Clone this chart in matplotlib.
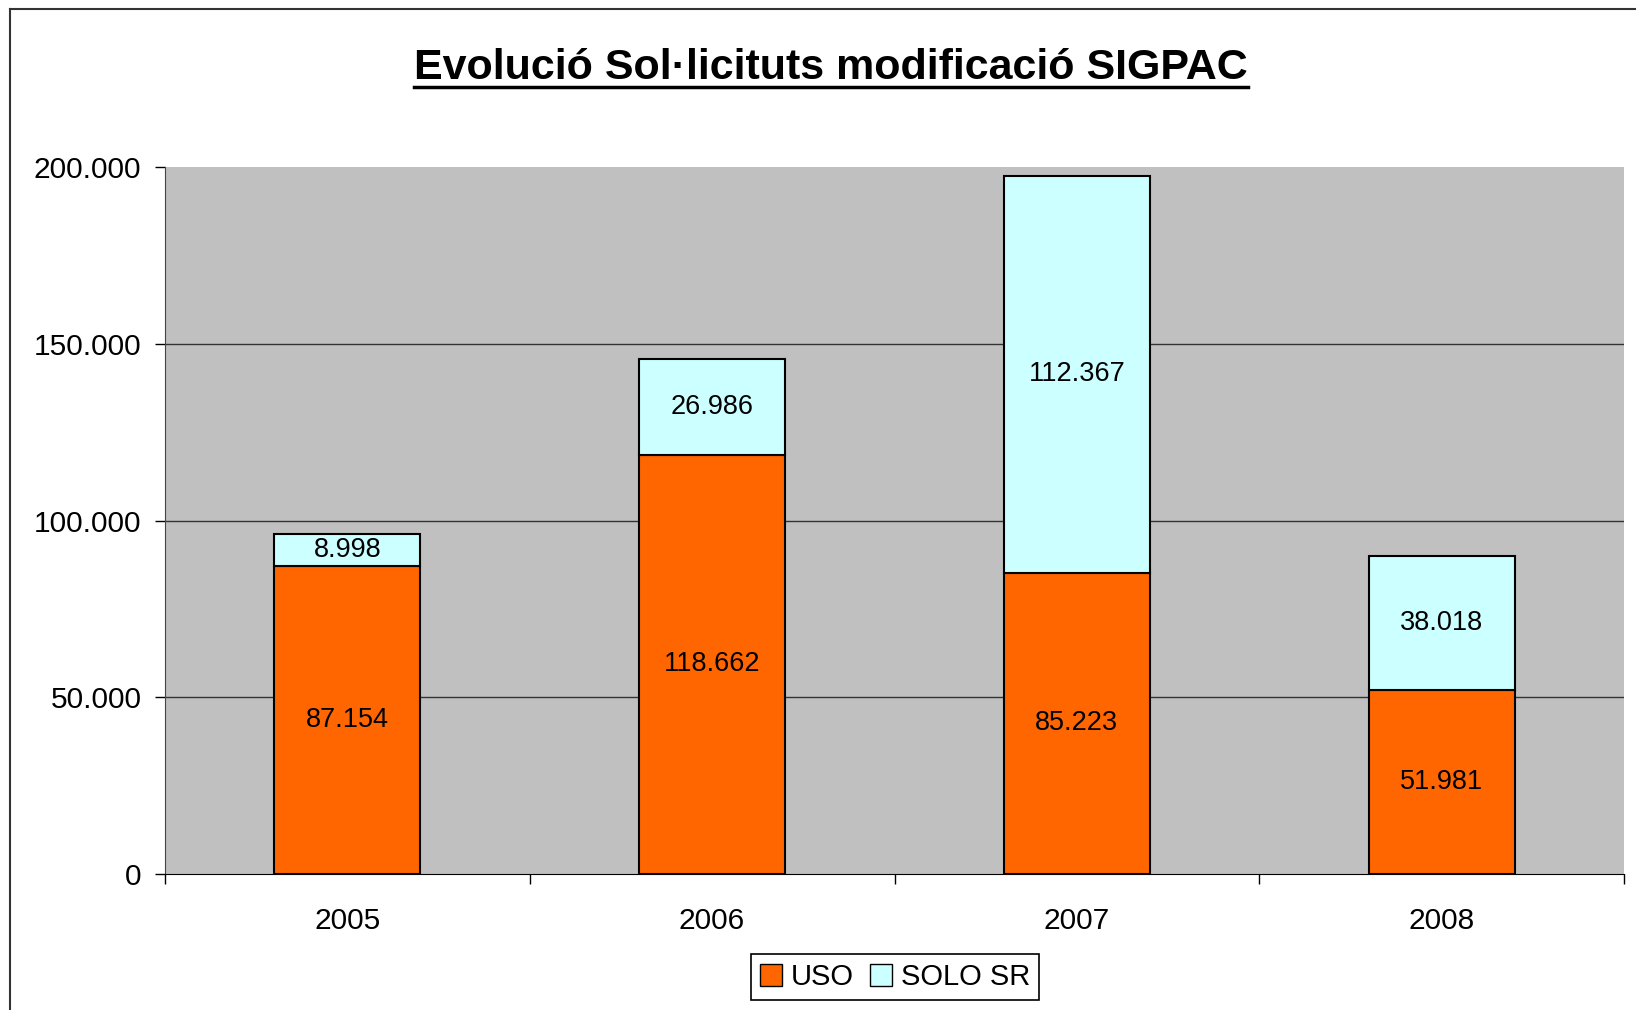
import matplotlib
matplotlib.use("Agg")
import matplotlib.pyplot as plt
from matplotlib.lines import Line2D
from matplotlib.patches import Patch
import numpy as np

plt.rcParams['font.family'] = ['Liberation Sans', 'DejaVu Sans']

years = ["2005", "2006", "2007", "2008"]
uso = [87154, 118662, 85223, 51981]
solo_sr = [8998, 26986, 112367, 38018]
yticks = [0, 50000, 100000, 150000, 200000]
ytick_labels = ["0", "50.000", "100.000", "150.000", "200.000"]
title = "Evolució Sol·licituts modificació SIGPAC"

def fmt(v):
    return f"{v:,}".replace(",", ".")

W, H = 1636, 1010
fig = plt.figure(figsize=(W / 100, H / 100), dpi=100)
fig.patch.set_facecolor("white")

ax = fig.add_axes([165 / W, 1 - 874 / H, (1624 - 165) / W, (874 - 167) / H])
ax.set_facecolor("#C0C0C0")

x = np.arange(len(years)) + 0.5
b1 = ax.bar(x, uso, width=0.4, color="#FF6600", edgecolor="black", linewidth=1.5, zorder=3)
b2 = ax.bar(x, solo_sr, width=0.4, bottom=uso, color="#CCFFFF", edgecolor="black", linewidth=1.5, zorder=3)

for xi, u, s in zip(x, uso, solo_sr):
    ax.text(xi, u / 2, fmt(u), ha="center", va="center", fontsize=19.5, zorder=4)
    ax.text(xi, u + s / 2, fmt(s), ha="center", va="center", fontsize=19.5, zorder=4)

ax.set_xlim(0, len(years))
ax.set_ylim(0, 200000)
ax.set_yticks(yticks)
ax.set_yticklabels(ytick_labels, fontsize=21.5)
for yv in yticks[1:-1]:
    ax.axhline(yv, color="#333333", linewidth=1.0, zorder=1)

ax.set_xticks(np.arange(len(years) + 1))
ax.set_xticklabels([])
ax.set_xticks(x, minor=True)
ax.set_xticklabels(years, minor=True, fontsize=21.5)
ax.tick_params(axis="x", which="major", length=7, width=1, direction="out")
ax.tick_params(axis="x", which="minor", length=0, pad=24)
ax.tick_params(axis="y", length=7, width=1, direction="out", pad=10)

for sp in ["top", "right"]:
    ax.spines[sp].set_visible(False)
ax.spines["left"].set_color("#444444")
ax.spines["bottom"].set_color("black")

handles = [Patch(facecolor="#FF6600", edgecolor="black", label="USO"),
           Patch(facecolor="#CCFFFF", edgecolor="black", label="SOLO SR")]
leg = fig.legend(handles=handles, loc="center", bbox_to_anchor=(895 / W, 1 - 977 / H),
                 ncol=2, fontsize=21, frameon=True, fancybox=False, framealpha=1,
                 edgecolor="black", handlelength=0.75, handleheight=0.75,
                 handletextpad=0.3, columnspacing=0.55, borderpad=0.3, borderaxespad=0.2)
leg.get_frame().set_linewidth(1.2)

t = fig.text(831 / W, 1 - 68 / H, title, ha="center", va="center", fontsize=31, fontweight="bold")
fig.canvas.draw()
bb = t.get_window_extent()
uy = 1 - 87 / H
fig.add_artist(Line2D([bb.x0 / W, bb.x1 / W], [uy, uy], color="black", linewidth=2.5))

# chart outer border (left and top edges visible)
fig.add_artist(Line2D([10 / W, 10 / W], [0, 1 - 9 / H], color="#333333", linewidth=1.5))
fig.add_artist(Line2D([10 / W, 1], [1 - 9 / H, 1 - 9 / H], color="#333333", linewidth=1.5))

fig.savefig("out.png", dpi=100)
